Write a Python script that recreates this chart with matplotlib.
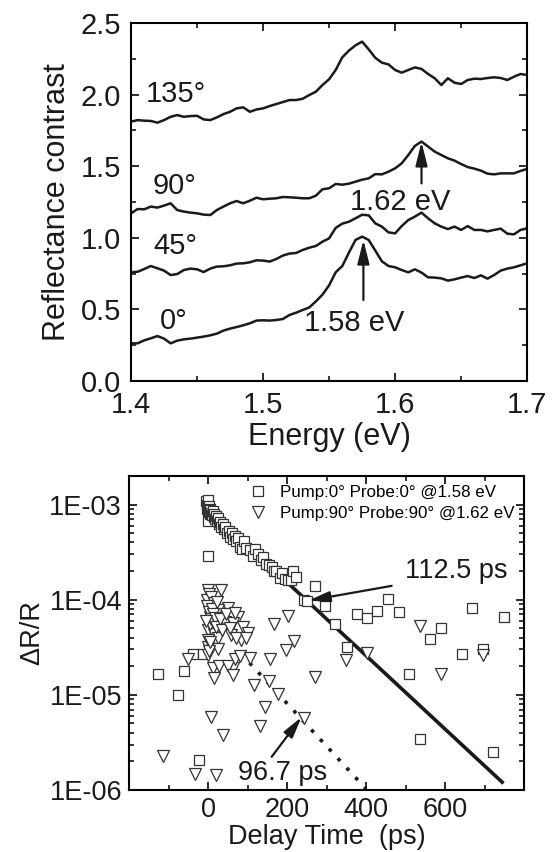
import numpy as np
import matplotlib

matplotlib.use("Agg")
import matplotlib.pyplot as plt
from matplotlib.ticker import MultipleLocator, LogLocator, FuncFormatter, NullFormatter
from matplotlib.lines import Line2D

plt.rcParams.update({
    "font.family": ["Liberation Sans", "DejaVu Sans"],
    "axes.linewidth": 1.5,
    "xtick.direction": "in",
    "ytick.direction": "in",
    "xtick.top": True,
    "ytick.right": True,
})

INK = "#1a1a1a"

# ---------------------------------------------------------------------------
# Panel (a): reflectance contrast spectra, offset by polarization angle
# ---------------------------------------------------------------------------
ENERGY = np.linspace(1.40, 1.70, 61)  # eV, 5 meV sampling

R_0 = [0.263, 0.263, 0.284, 0.298, 0.314, 0.296, 0.263, 0.282, 0.291, 0.296,
       0.303, 0.310, 0.319, 0.331, 0.352, 0.366, 0.377, 0.389, 0.403, 0.422,
       0.424, 0.422, 0.426, 0.433, 0.461, 0.477, 0.496, 0.514, 0.556, 0.603,
       0.668, 0.759, 0.803, 0.896, 0.985, 1.008, 0.985, 0.911, 0.836, 0.803,
       0.794, 0.775, 0.759, 0.780, 0.757, 0.724, 0.722, 0.717, 0.701, 0.710,
       0.722, 0.733, 0.719, 0.738, 0.715, 0.740, 0.771, 0.785, 0.794, 0.808,
       0.822]
R_45 = [0.759, 0.763, 0.782, 0.803, 0.787, 0.771, 0.740, 0.747, 0.775, 0.785,
        0.780, 0.761, 0.785, 0.799, 0.801, 0.808, 0.820, 0.822, 0.829, 0.843,
        0.841, 0.834, 0.852, 0.876, 0.890, 0.894, 0.915, 0.931, 0.943, 0.973,
        0.996, 1.069, 1.099, 1.112, 1.136, 1.161, 1.157, 1.101, 1.078, 1.038,
        1.031, 1.082, 1.124, 1.148, 1.176, 1.136, 1.101, 1.078, 1.061, 1.078,
        1.055, 1.082, 1.055, 1.055, 1.045, 1.055, 1.064, 1.029, 1.024, 1.055,
        1.066]
R_90 = [1.171, 1.201, 1.199, 1.218, 1.211, 1.225, 1.241, 1.194, 1.183, 1.176,
        1.171, 1.162, 1.159, 1.194, 1.218, 1.241, 1.257, 1.241, 1.259, 1.280,
        1.269, 1.273, 1.276, 1.285, 1.283, 1.280, 1.276, 1.276, 1.294, 1.339,
        1.346, 1.376, 1.371, 1.378, 1.392, 1.406, 1.415, 1.445, 1.443, 1.462,
        1.485, 1.520, 1.578, 1.642, 1.672, 1.637, 1.602, 1.578, 1.555, 1.539,
        1.515, 1.494, 1.483, 1.469, 1.448, 1.443, 1.450, 1.450, 1.450, 1.467,
        1.481]
R_135 = [1.811, 1.822, 1.818, 1.816, 1.804, 1.822, 1.845, 1.857, 1.845, 1.850,
         1.852, 1.827, 1.822, 1.841, 1.864, 1.880, 1.904, 1.911, 1.880, 1.896,
         1.904, 1.920, 1.934, 1.948, 1.962, 1.962, 1.971, 1.997, 2.020, 2.067,
         2.107, 2.172, 2.260, 2.307, 2.344, 2.370, 2.316, 2.257, 2.223, 2.211,
         2.172, 2.153, 2.172, 2.190, 2.179, 2.144, 2.114, 2.067, 2.114, 2.083,
         2.074, 2.102, 2.111, 2.109, 2.116, 2.121, 2.116, 2.102, 2.125, 2.144,
         2.137]

SPECTRA = [R_0, R_45, R_90, R_135]
ANGLE_LABELS = ["0\u00b0", "45\u00b0", "90\u00b0", "135\u00b0"]
ANGLE_LABEL_XY = [(1.422, 0.42), (1.417, 0.94), (1.416, 1.365), (1.411, 2.005)]

PEAK_E = [1.576, 1.620]
PEAK_R = [0.985, 1.670]
PEAK_TEXT = ["1.58 eV", "1.62 eV"]

# ---------------------------------------------------------------------------
# Panel (b): pump-probe transients
# ---------------------------------------------------------------------------
SQ_T = [-126, -75, -60, -37, -24, -12,
        -4, -3, -2, -1, 0, 0, 1, 1, 2, 3, 4, 5, 6, 8, 10, 12, 14, 16, 18, 20,
        22, 25, 28, 31, 34, 37, 40, 44, 48, 52, 56, 60, 64, 68, 72, 77, 82, 86,
        92, 96, 106, 114, 118, 127, 135, 140, 148, 155, 161, 167, 173, 182, 188,
        194, 203, 210, 215, 222, 242, 251, 271, 296, 0,
        321, 351, 376, 402, 429, 455, 484, 510, 537, 562, 590, 642, 669, 697,
        722, 750]
SQ_Y = [1.67e-5, 1.0e-5, 1.8e-5, 2.7e-5, 2.06e-6, 2.7e-5,
        1.08e-3, 9.8e-4, 9.0e-4, 1.02e-3, 9.4e-4, 1.12e-3, 8.6e-4, 6.7e-4,
        9.6e-4, 8.3e-4, 9.1e-4, 8.0e-4, 8.7e-4, 8.2e-4, 7.7e-4, 8.5e-4, 7.4e-4,
        8.0e-4, 7.0e-4, 7.6e-4, 6.7e-4, 7.2e-4, 6.3e-4, 6.6e-4, 5.8e-4, 6.2e-4,
        5.5e-4, 5.8e-4, 5.0e-4, 5.3e-4, 4.6e-4, 5.0e-4, 4.4e-4, 4.7e-4, 4.1e-4,
        4.5e-4, 3.6e-4, 3.4e-4, 4.1e-4, 3.5e-4, 3.3e-4, 2.9e-4, 3.4e-4, 3.0e-4,
        2.6e-4, 2.8e-4, 2.4e-4, 2.3e-4, 2.2e-4, 2.0e-4, 2.0e-4, 1.7e-4, 1.9e-4,
        1.65e-4, 1.6e-4, 1.6e-4, 2.0e-4, 1.75e-4, 1.0e-4, 9.6e-5, 1.4e-4,
        8.5e-5, 2.9e-4,
        5.6e-5, 3.2e-5, 7.1e-5, 6.5e-5, 7.7e-5, 1.03e-4, 7.4e-5, 1.67e-5,
        3.4e-6, 3.87e-5, 5.1e-5, 2.7e-5, 8.1e-5, 3.0e-5, 2.5e-6, 6.6e-5]

TRI_T = [-113, -50, -33, 19,
         1, 3, -3, 7, 34, 16, 51, 25, 76, 4, 42, 63, 88, 101, 0, 14, 26, 59,
         84, 1, 26, 1, -2, 2, 5, 8, 10, 12, 18, 20, 22, 30, 36, 45, 55, 68,
         72, 95, -4, -1, 3, 6,
         12, 29, 62, 14, 51, 63, 68, 80, 106,
         116, 131, 143, 154, 158, 166, 177, 197, 202, 218, 242, 7, 38, 271,
         349, 403, 537, 589, 696]
TRI_Y = [2.26e-6, 2.4e-5, 1.47e-6, 1.45e-6,
         1.26e-4, 1.15e-4, 1.0e-4, 1.08e-4, 1.26e-4, 9.2e-5, 8.1e-5, 7.8e-5,
         6.6e-5, 6.6e-5, 5.9e-5, 5.7e-5, 5.2e-5, 4.5e-5, 4.8e-5, 4.4e-5,
         4.0e-5, 4.3e-5, 3.8e-5, 3.2e-5, 3.0e-5, 2.65e-5, 8.5e-5, 7.5e-5,
         5.5e-5, 6.2e-5, 8.0e-5, 7.0e-5, 6.5e-5, 5.2e-5, 9.5e-5, 6.2e-5,
         4.8e-5, 7.0e-5, 5.0e-5, 7.2e-5, 4.0e-5, 4.0e-5, 6.0e-5, 3.8e-5,
         2.9e-5, 3.6e-5,
         1.9e-5, 2.0e-5, 1.9e-5, 1.5e-5, 2.0e-5, 1.6e-5, 2.4e-5, 2.55e-5,
         2.45e-5,
         1.26e-5, 4.7e-6, 7.4e-6, 1.4e-5, 2.4e-5, 5.5e-5, 1.03e-5, 2.95e-5,
         6.7e-5, 3.7e-5, 5.7e-6, 5.9e-6, 3.8e-6, 1.55e-5,
         2.35e-5, 2.75e-5, 5.3e-5, 1.65e-5, 2.6e-5]

# single-exponential fits: amplitude, lifetime (ps), plotted time span (ps)
FIT_SQ = (9.05e-4, 112.5, (198, 748))
FIT_TRI = (6.43e-5, 96.7, (105, 400))


def fit_curve(amp, tau, span):
    t = np.linspace(span[0], span[1], 200)
    return t, amp * np.exp(-t / tau)


def log_label(v, pos):
    e = int(round(np.log10(v)))
    return f"1E-{abs(e):02d}" if e < 0 else f"1E+{e:02d}"


fig = plt.figure(figsize=(5.54, 8.52), dpi=100)

# ---- top panel ------------------------------------------------------------
ax1 = fig.add_axes([0.2365, 0.5528, 0.715, 0.4202])
for R in SPECTRA:
    ax1.plot(ENERGY, R, color=INK, lw=1.8)
for lab, (x, y) in zip(ANGLE_LABELS, ANGLE_LABEL_XY):
    ax1.text(x, y, lab, fontsize=21, ha="left", va="center", color=INK)

arrow_kw = dict(arrowstyle="-|>,head_length=0.8,head_width=0.2",
                color=INK, lw=1.6, shrinkA=0, shrinkB=0)
ax1.annotate("", xy=(PEAK_E[0], PEAK_R[0]), xytext=(PEAK_E[0], 0.566),
             arrowprops=dict(mutation_scale=18, **arrow_kw))
ax1.text(1.569, 0.405, PEAK_TEXT[0], fontsize=21, ha="center", va="center",
         color=INK)
ax1.annotate("", xy=(PEAK_E[1], PEAK_R[1]), xytext=(PEAK_E[1], 1.38),
             arrowprops=dict(mutation_scale=18, **arrow_kw))
ax1.text(1.604, 1.252, PEAK_TEXT[1], fontsize=21, ha="center", va="center",
         color=INK)

ax1.set_xlim(1.4, 1.7)
ax1.set_ylim(0.0, 2.5)
ax1.xaxis.set_major_locator(MultipleLocator(0.1))
ax1.xaxis.set_minor_locator(MultipleLocator(0.05))
ax1.yaxis.set_major_locator(MultipleLocator(0.5))
ax1.yaxis.set_minor_locator(MultipleLocator(0.25))
ax1.xaxis.set_major_formatter(FuncFormatter(lambda v, p: f"{v:.1f}"))
ax1.yaxis.set_major_formatter(FuncFormatter(lambda v, p: f"{v:.1f}"))
ax1.tick_params(which="major", length=6, width=1.3, labelsize=21, pad=7,
                colors=INK)
ax1.tick_params(which="minor", length=3.5, width=1.1)
ax1.set_xlabel("Energy (eV)", fontsize=22, color=INK, labelpad=2)
ax1.set_ylabel("Reflectance contrast", fontsize=22, color=INK)
ax1.yaxis.set_label_coords(-0.15, 0.5)

# ---- bottom panel ---------------------------------------------------------
ax2 = fig.add_axes([0.2329, 0.0728, 0.713, 0.3685])
ax2.set_yscale("log")

t, y = fit_curve(*FIT_SQ)
ax2.plot(t, y, color=INK, lw=2.6, zorder=2, solid_capstyle="butt")
t, y = fit_curve(*FIT_TRI)
ax2.plot(t, y, color=INK, lw=2.6, zorder=2, linestyle=(0, (1.0, 2.6)),
         dash_capstyle="butt")

ax2.plot(SQ_T, SQ_Y, ls="none", marker="s", ms=7, mfc="white",
         mec="#333333", mew=0.9, zorder=3)
ax2.plot(TRI_T, TRI_Y, ls="none", marker="v", ms=8.5, mfc="white",
         mec="#333333", mew=0.9, zorder=3)

ax2.annotate("", xy=(254, 9.8e-5), xytext=(465, 1.4e-4),
             arrowprops=dict(mutation_scale=16, **arrow_kw), zorder=4)
ax2.text(499, 2.0e-4, "112.5 ps", fontsize=19.5, ha="left", va="center",
         color=INK)
ax2.annotate("", xy=(237, 5.85e-6), xytext=(161, 2.23e-6),
             arrowprops=dict(mutation_scale=16, **arrow_kw), zorder=4)
ax2.text(77, 1.5e-6, "96.7 ps", fontsize=19.5, ha="left", va="center",
         color=INK)

handles = [
    Line2D([], [], ls="none", marker="s", ms=6.5, mfc="white",
           mec="#333333", mew=0.9),
    Line2D([], [], ls="none", marker="v", ms=8, mfc="white",
           mec="#333333", mew=0.9),
]
ax2.legend(handles,
           ["Pump:0\u00b0 Probe:0\u00b0 @1.58 eV",
            "Pump:90\u00b0 Probe:90\u00b0 @1.62 eV"],
           loc="upper right", frameon=False, fontsize=12.2,
           handlelength=1.0, handletextpad=0.8, labelspacing=0.35,
           borderaxespad=0.25, borderpad=0.3)

ax2.set_xlim(-200, 800)
ax2.set_ylim(1e-6, 2e-3)
ax2.xaxis.set_major_locator(MultipleLocator(200))
ax2.xaxis.set_minor_locator(MultipleLocator(100))
ax2.xaxis.set_major_formatter(FuncFormatter(
    lambda v, p: f"{v:.0f}" if 0 <= v <= 600 else ""))
ax2.yaxis.set_major_locator(LogLocator(base=10, numticks=10))
ax2.yaxis.set_minor_locator(LogLocator(base=10, subs=np.arange(2, 10),
                                       numticks=20))
ax2.yaxis.set_major_formatter(FuncFormatter(log_label))
ax2.yaxis.set_minor_formatter(NullFormatter())
ax2.tick_params(which="major", length=6, width=1.3, labelsize=19.5, pad=5,
                colors=INK)
ax2.tick_params(which="minor", length=3.5, width=1.1)
ax2.set_xlabel("Delay Time  (ps)", fontsize=19.5, color=INK, labelpad=1)
ax2.set_ylabel("\u0394R/R", fontsize=19.5, color=INK)
ax2.yaxis.set_label_coords(-0.213, 0.5)

fig.savefig("out.png", dpi=100)
